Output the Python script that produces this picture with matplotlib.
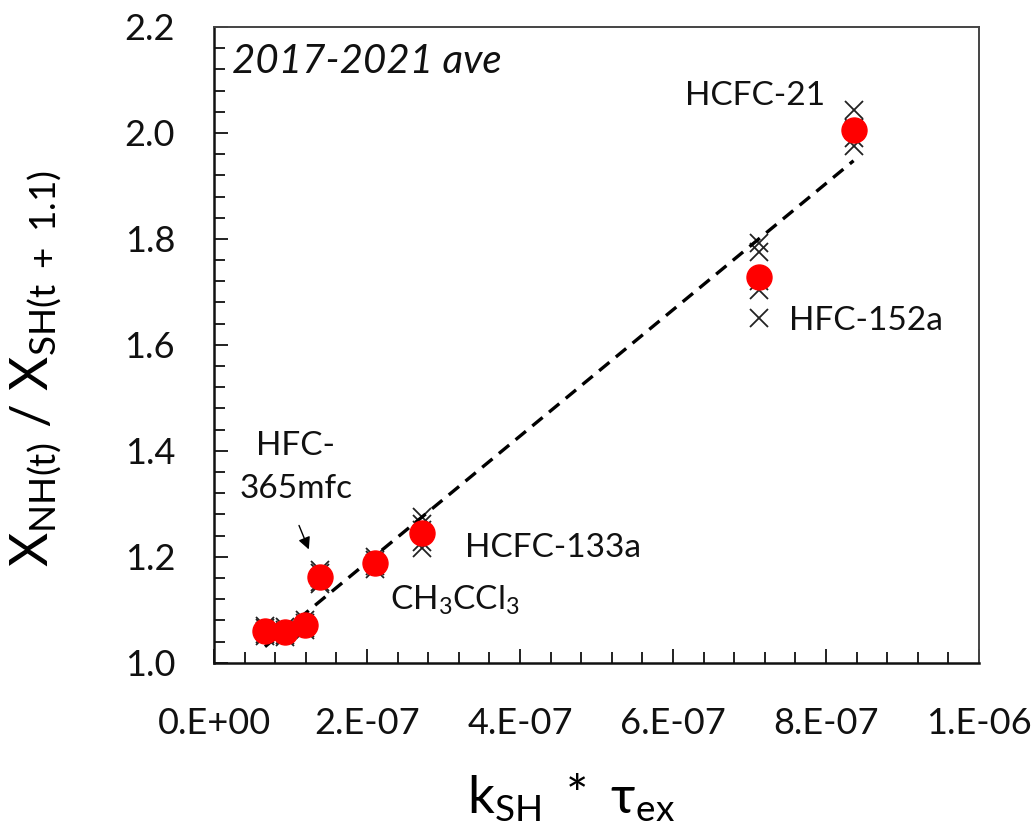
import matplotlib
matplotlib.use("Agg")
import matplotlib.pyplot as plt
from matplotlib.ticker import MultipleLocator, FuncFormatter

plt.rcParams['font.family'] = ['Lato', 'DejaVu Sans']
plt.rcParams['mathtext.fontset'] = 'custom'
plt.rcParams['mathtext.rm'] = 'Lato'
plt.rcParams['mathtext.it'] = 'Lato:italic'

# k_SH * tau_ex for each species (x) and 2017-2021 mean ratio (red dots)
k_tau = [6.66e-8, 9.27e-8, 1.19e-7, 1.38e-7, 2.11e-7, 2.72e-7, 7.12e-7, 8.36e-7]
ratio_mean = [1.060, 1.058, 1.071, 1.162, 1.189, 1.245, 1.728, 2.005]

# individual years (black crosses)
ratio_years = [
    [1.070, 1.065, 1.060, 1.055, 1.050],
    [1.068, 1.062, 1.058, 1.053, 1.048],
    [1.080, 1.075, 1.070, 1.066, 1.062],
    [1.175, 1.170, 1.160, 1.152, 1.148],
    [1.200, 1.193, 1.188, 1.183, 1.176],
    [1.275, 1.262, 1.250, 1.228, 1.216],
    [1.792, 1.775, 1.720, 1.703, 1.650],
    [2.044, 2.010, 2.005, 1.990, 1.975],
]

# regression line
fit_slope = 1.192e6
fit_intercept = 0.951

labels = ["HCFC-21", "HFC-152a", "HCFC-133a", r"$\mathregular{CH_3CCl_3}$", "HFC-\n365mfc"]
label_x = [7.99e-7, 7.51e-7, 3.28e-7, 2.30e-7, 1.07e-7]
label_y = [2.069, 1.645, 1.216, 1.118, 1.369]
label_ha = ["right", "left", "left", "left", "center"]

fig = plt.figure(figsize=(10.35, 8.35), dpi=100)
ax = fig.add_axes([0.2068, 0.2063, 0.9459 - 0.2068, 0.9677 - 0.2063])

for xi, ys in zip(k_tau, ratio_years):
    ax.plot([xi] * len(ys), ys, linestyle='none', marker='x', color='#222222',
            markersize=13, markeredgewidth=1.3, zorder=2)

xl = [min(k_tau), max(k_tau)]
ax.plot(xl, [fit_slope * v + fit_intercept for v in xl], color='black',
        linestyle=(0, (4, 2.5)), linewidth=2.4, zorder=3)

ax.plot(k_tau, ratio_mean, linestyle='none', marker='o', color='#ff0000',
        markersize=18, zorder=4)

for t, x, y, ha in zip(labels, label_x, label_y, label_ha):
    ax.text(x, y, t, fontsize=24, ha=ha, va='center', color='#111111',
            linespacing=1.55, zorder=5)

ax.annotate("", xy=(1.253e-7, 1.209), xytext=(1.097e-7, 1.264),
            arrowprops=dict(arrowstyle='-|>', color='black', lw=1.0,
                            mutation_scale=18), zorder=5)

ax.text(0.023, 0.975, "2017-2021 ave", transform=ax.transAxes, fontsize=29,
        style='italic', ha='left', va='top', color='#111111')

ax.set_xlim(0, 1e-6)
ax.set_ylim(1.0, 2.2)
ax.xaxis.set_major_locator(MultipleLocator(2e-7))
ax.xaxis.set_minor_locator(MultipleLocator(4e-8))
ax.yaxis.set_major_locator(MultipleLocator(0.2))
ax.yaxis.set_minor_locator(MultipleLocator(0.04))
ax.xaxis.set_major_formatter(FuncFormatter(lambda v, p: f"{v:#.0E}"))
ax.yaxis.set_major_formatter(FuncFormatter(lambda v, p: f"{v:.1f}"))
ax.tick_params(which='both', direction='in', labelsize=26, colors='#111111')
ax.tick_params(which='major', length=10, width=1.3)
ax.tick_params(which='minor', length=8, width=1.3)
ax.tick_params(axis='x', pad=32)
ax.tick_params(axis='y', pad=28)
ax.tick_params(top=False, right=False, which='both')

for s in ['left', 'bottom']:
    ax.spines[s].set_linewidth(1.8)
    ax.spines[s].set_color('#111111')
for s in ['top', 'right']:
    ax.spines[s].set_linewidth(1.4)
    ax.spines[s].set_color('#444444')

ax.text(-0.232, 0.4636, r"$\mathregular{X_{NH(t)}\ /\ X_{SH(t\ +\ 1.1)}}$",
        transform=ax.transAxes, rotation=90, fontsize=38, ha='center', va='center')
ax.text(0.467, -0.213, r"$\mathregular{k_{SH}\ *\ τ_{ex}}$",
        transform=ax.transAxes, fontsize=38, ha='center', va='center')

fig.savefig("out.png", dpi=100)
